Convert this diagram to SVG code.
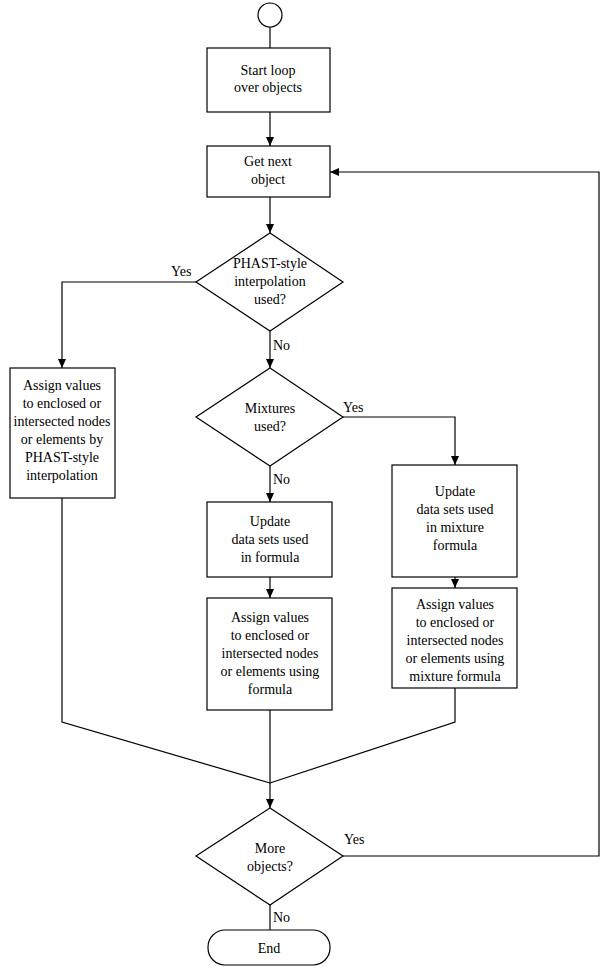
<svg xmlns="http://www.w3.org/2000/svg" width="600" height="967" viewBox="0 0 600 967" font-family="'Liberation Serif', 'Times New Roman', serif" font-size="14">
<style>
.s{fill:#fff;stroke:#000;stroke-width:1.2}
.c{fill:none;stroke:#000;stroke-width:1.2}
text{font-family:'Liberation Serif','Times New Roman',serif;font-size:14px;text-anchor:middle;fill:#000}
.l{text-anchor:start}
</style>
<defs><marker id="a" markerWidth="10" markerHeight="10" refX="9" refY="5" orient="auto" markerUnits="userSpaceOnUse"><path d="M0,1 L9,5 L0,9 Z"/></marker></defs>
<g id="connectors">
<path class="c" d="M270,27 V48"/>
<path class="c" d="M270,112 V146" marker-end="url(#a)"/>
<path class="c" d="M270,197 V233" marker-end="url(#a)"/>
<path class="c" d="M196,282 H62 V368" marker-end="url(#a)"/>
<path class="c" d="M270,331 V368" marker-end="url(#a)"/>
<path class="c" d="M343,417 H455 V465" marker-end="url(#a)"/>
<path class="c" d="M270,466 V502" marker-end="url(#a)"/>
<path class="c" d="M270,577 V598" marker-end="url(#a)"/>
<path class="c" d="M455,577 V588" marker-end="url(#a)"/>
<path class="c" d="M62,498 V722 L270,783"/>
<path class="c" d="M455,688 V722 L270,783"/>
<path class="c" d="M270,710 V808" marker-end="url(#a)"/>
<path class="c" d="M343,856 H599 V172 H330" marker-end="url(#a)"/>
<path class="c" d="M270,905 V930"/>
<text class="l" x="171" y="276">Yes</text>
<text class="l" x="273" y="350">No</text>
<text class="l" x="343" y="412">Yes</text>
<text class="l" x="273" y="484">No</text>
<text class="l" x="344" y="844">Yes</text>
<text class="l" x="273" y="922">No</text>
</g>
<g id="start"><circle class="s" cx="270" cy="15" r="12"/></g>
<g id="n1"><rect class="s" x="207" y="48" width="123" height="64"/><text x="268" y="75">Start loop</text><text x="268" y="92">over objects</text></g>
<g id="n2"><rect class="s" x="207" y="146" width="123" height="51"/><text x="268" y="166">Get next</text><text x="268" y="184">object</text></g>
<g id="d1"><polygon class="s" points="270,233 343,282 270,331 196,282"/><text x="270" y="268">PHAST-style</text><text x="270" y="286">interpolation</text><text x="270" y="304">used?</text></g>
<g id="left"><rect class="s" x="10" y="368" width="105" height="130"/><text x="62" y="390">Assign values</text><text x="62" y="408">to enclosed or</text><text x="62" y="426">intersected nodes</text><text x="62" y="444">or elements by</text><text x="62" y="462">PHAST-style</text><text x="62" y="480">interpolation</text></g>
<g id="d2"><polygon class="s" points="270,368 343,417 270,466 196,417"/><text x="270" y="413">Mixtures</text><text x="270" y="431">used?</text></g>
<g id="m1"><rect class="s" x="207" y="502" width="125" height="75"/><text x="270" y="526">Update</text><text x="270" y="544">data sets used</text><text x="270" y="562">in formula</text></g>
<g id="m2"><rect class="s" x="207" y="598" width="125" height="112"/><text x="270" y="622">Assign values</text><text x="270" y="640">to enclosed or</text><text x="270" y="658">intersected nodes</text><text x="270" y="676">or elements using</text><text x="270" y="694">formula</text></g>
<g id="r1"><rect class="s" x="392" y="465" width="125" height="112"/><text x="455" y="496">Update</text><text x="455" y="514">data sets used</text><text x="455" y="532">in mixture</text><text x="455" y="550">formula</text></g>
<g id="r2"><rect class="s" x="392" y="588" width="125" height="100"/><text x="455" y="609">Assign values</text><text x="455" y="627">to enclosed or</text><text x="455" y="645">intersected nodes</text><text x="455" y="663">or elements using</text><text x="455" y="681">mixture formula</text></g>
<g id="d3"><polygon class="s" points="270,808 343,856 270,905 196,856"/><text x="270" y="853">More</text><text x="270" y="871">objects?</text></g>
<g id="end"><rect class="s" x="208" y="930" width="122" height="35" rx="17"/><text x="269" y="953">End</text></g>
</svg>
